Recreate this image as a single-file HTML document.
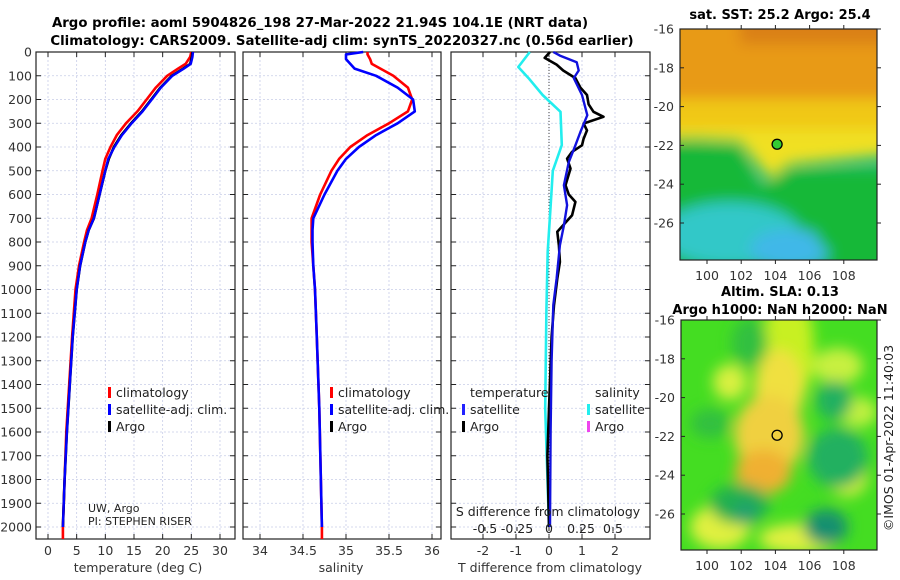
<!DOCTYPE html>
<html><head><meta charset="utf-8"><style>
html,body{margin:0;padding:0;background:#fff;}
svg{display:block;font-family:"DejaVu Sans","Liberation Sans",sans-serif;}
</style></head><body>
<svg id="fig" width="900" height="580" viewBox="0 0 900 580" xmlns="http://www.w3.org/2000/svg">
<rect width="900" height="580" fill="#fff"/>
<text x="320" y="27" font-size="13.3" font-weight="bold" text-anchor="middle">Argo profile: aoml 5904826_198 27-Mar-2022 21.94S 104.1E (NRT data)</text>
<text x="342" y="45" font-size="13.3" font-weight="bold" text-anchor="middle">Climatology: CARS2009. Satellite-adj clim: synTS_20220327.nc (0.56d earlier)</text>
<g id="plots"></g>
<g id="maps"></g>
</svg>
<script>
// ---- data ----
const tempDepth = [0,20,50,70,100,150,200,250,300,350,400,450,500,600,700,750,800,900,1000,1200,1400,1600,1800,2000];
const tempArgo  = [25.2,25.1,24.8,23.6,21.6,19.6,18.0,16.4,14.5,12.8,11.5,10.6,10.0,9.0,8.0,7.1,6.5,5.6,5.0,4.3,3.8,3.3,2.9,2.6];
const tempSat   = [25.3,25.2,24.9,23.7,21.7,19.7,18.1,16.5,14.6,12.9,11.6,10.5,10.0,9.0,8.0,7.1,6.5,5.6,5.0,4.3,3.8,3.3,2.9,2.6];
const tempClim  = [25.0,24.8,24.0,22.7,20.8,18.8,17.2,15.6,13.6,12.0,10.9,10.0,9.5,8.6,7.6,6.8,6.3,5.4,4.8,4.2,3.7,3.2,2.9,2.6];
const salDepth  = [0,10,30,50,70,100,150,200,250,300,350,400,450,500,600,700,750,800,900,1000,1200,1500,2000];
const salClim   = [35.25,35.25,35.28,35.3,35.4,35.55,35.72,35.77,35.72,35.5,35.25,35.05,34.92,34.83,34.7,34.6,34.6,34.6,34.62,34.64,34.66,34.69,34.72];
const salSat    = [35.2,35.0,35.0,35.05,35.1,35.35,35.6,35.78,35.8,35.6,35.35,35.15,35.0,34.9,34.75,34.62,34.61,34.61,34.62,34.64,34.66,34.69,34.72];
const dTsatDepth = [0,15,43,78,110,181,266,337,393,463,561,645,730,814,954,1066,1300,1600,2000];
const dTsat      = [0.13,0.33,0.84,0.9,0.75,1.0,1.16,0.95,0.8,0.6,0.45,0.55,0.45,0.33,0.23,0.13,0.08,0.05,0.03];
const dTargoDepth = [0,25,53,78,110,150,181,220,252,273,301,330,365,393,420,449,491,561,600,631,687,757,814,884,954,1066,1200,1500,1700,2000];
const dTargo      = [0.03,-0.13,0.23,0.43,0.8,0.95,1.15,1.2,1.35,1.65,1.05,1.15,1.05,1.0,0.7,0.55,0.65,0.5,0.6,0.8,0.7,0.25,0.3,0.33,0.25,0.15,0.08,0.0,-0.05,0.0];
const dSsatDepth = [0,63,110,181,252,392,500,670,840,1090,1500,2000];
const dSsat      = [-0.15,-0.24,-0.16,-0.05,0.09,0.1,0.03,0.01,-0.01,-0.02,-0.03,0.0];
const depthTicks = [0,100,200,300,400,500,600,700,800,900,1000,1100,1200,1300,1400,1500,1600,1700,1800,1900,2000];
const tTicks = [0,5,10,15,20,25,30];
const sTicks = [34,34.5,35,35.5,36];
const dtTicks = [-2,-1,0,1,2];
const dsTicks = [-0.5,-0.25,0,0.25,0.5];
const dsTickLabels = ['-0.5','-0.25','0','0.25','0.5'];
const lonTicks = [100,102,104,106,108];
const latTicks = [-16,-18,-20,-22,-24,-26];
const argoLon = 104.1, argoLat = -21.94;

const NS='http://www.w3.org/2000/svg';
function el(tag, attrs, parent, txt){const e=document.createElementNS(NS,tag);for(const k in attrs)e.setAttribute(k,attrs[k]);if(txt!==undefined)e.textContent=txt;(parent||document.getElementById('plots')).appendChild(e);return e;}
const TOP=52, BOT=539;
const yD = d => TOP + d*0.2375;
const panels = [
 {x0:36,x1:235,fx:v=>48+v*5.733,ticks:tTicks,name:'temperature-panel'},
 {x0:243,x1:441,fx:v=>260+(v-34)*86,ticks:sTicks,name:'salinity-panel'},
 {x0:451,x1:650,fx:v=>549+v*33,ticks:dtTicks,name:'difference-panel'}
];
const g=document.getElementById('plots');
panels.forEach((p,i)=>{
  const pg=el('g',{},g);
  
  
  depthTicks.forEach(d=>{
    el('line',{x1:p.x0,x2:p.x1,y1:yD(d),y2:yD(d),stroke:'#c8cde8','stroke-width':0.8,'stroke-dasharray':'2,2'},pg);
    el('line',{x1:p.x0,x2:p.x0+5,y1:yD(d),y2:yD(d),stroke:'#222'},pg);
    el('line',{x1:p.x1,x2:p.x1-5,y1:yD(d),y2:yD(d),stroke:'#222'},pg);
    if(i===0){const t=el('text',{x:p.x0-4,y:yD(d)+4.5,'font-size':12.5,'text-anchor':'end',fill:'#333'},pg,String(d));
      }
  });
  p.ticks.forEach((v,j)=>{
    const x=p.fx(v);
    el('line',{x1:x,x2:x,y1:TOP,y2:BOT,stroke:'#c8cde8','stroke-width':0.8,'stroke-dasharray':'2,2'},pg);
    el('line',{x1:x,x2:x,y1:BOT,y2:BOT-5,stroke:'#222'},pg);
    el('line',{x1:x,x2:x,y1:TOP,y2:TOP+5,stroke:'#222'},pg);
    const t=el('text',{x:x,y:BOT+16,'font-size':12.5,'text-anchor':'middle',fill:'#333'},pg,String(v));
    
  });
  el('rect',{x:p.x0,y:TOP,width:p.x1-p.x0,height:BOT-TOP,fill:'none',stroke:'#222','stroke-width':1.2},pg);
  p.g=pg;
});
function line(pg,xs,ds,fx,color,w,name){
  const pts=xs.map((v,k)=>fx(v).toFixed(1)+','+yD(ds[k]).toFixed(1)).join(' ');
  const e=el('polyline',{points:pts,fill:'none',stroke:color,'stroke-width':w,'stroke-linejoin':'round'},pg);
  
  
}
const P=panels;
line(P[0].g,tempClim,tempDepth,P[0].fx,'#f00',2.6,'temp-climatology-line');
el('line',{x1:P[0].fx(2.6),x2:P[0].fx(2.6),y1:yD(2000),y2:BOT,stroke:'#f00','stroke-width':2.6},P[0].g);
line(P[0].g,tempArgo,tempDepth,P[0].fx,'#000',2.6,'temp-argo-line');
line(P[0].g,tempSat,tempDepth,P[0].fx,'#00f',2.4,'temp-satellite-line');
line(P[1].g,salClim,salDepth,P[1].fx,'#f00',2.6,'sal-climatology-line');
el('line',{x1:P[1].fx(34.72),x2:P[1].fx(34.72),y1:yD(2000),y2:BOT,stroke:'#f00','stroke-width':2.6},P[1].g);
line(P[1].g,salSat,salDepth,P[1].fx,'#00f',2.6,'sal-satellite-line');
el('line',{x1:549,x2:549,y1:TOP,y2:BOT,stroke:'#444','stroke-width':1,'stroke-dasharray':'1,2'},P[2].g);
const fxS=v=>549+v*128;
line(P[2].g,dSsat,dSsatDepth,fxS,'#22eeee',2.6,'sal-diff-satellite-line');
line(P[2].g,dTargo,dTargoDepth,P[2].fx,'#000',2.6,'temp-diff-argo-line');
line(P[2].g,dTsat,dTsatDepth,P[2].fx,'#11d',2.4,'temp-diff-satellite-line');
dsTicks.forEach((v,j)=>{
  el('line',{x1:fxS(v),x2:fxS(v),y1:yD(2000),y2:yD(2000)+4,stroke:'#222'},P[2].g);
  const t=el('text',{x:fxS(v),y:533,'font-size':12.5,'text-anchor':'middle',fill:'#222'},P[2].g,dsTickLabels[j]);
  
});
function txt(x,y,s,name,opts){const t=el('text',Object.assign({x:x,y:y,'font-size':12.5,fill:'#222'},opts||{}),g,s);return t;}
txt(548,516,'S difference from climatology','s-diff-axis-title',{'text-anchor':'middle'});
txt(138,572,'temperature (deg C)','temp-axis-title',{'text-anchor':'middle',fill:'#333'});
txt(341,572,'salinity','salinity-axis-title',{'text-anchor':'middle',fill:'#333'});
txt(550,572,'T difference from climatology','t-diff-axis-title',{'text-anchor':'middle',fill:'#333'});
txt(88,512,'UW, Argo','institution-label',{'font-size':11});
txt(88,525,'PI: STEPHEN RISER','pi-label',{'font-size':11});
function leg(x,y,color,s,name){
  const lg=el('g',{},g);
  if(color) el('rect',{x:x,y:y-10,width:3,height:11,fill:color},lg);
  el('text',{x:x+8,y:y,'font-size':12.5,fill:'#222'},lg,s);
}
leg(108,397,'#f00','climatology','legend-climatology');
leg(108,414,'#00f','satellite-adj. clim.','legend-satellite-adj');
leg(108,431,'#000','Argo','legend-argo');
leg(330,397,'#f00','climatology','legend-climatology-2');
leg(330,414,'#00f','satellite-adj. clim.','legend-satellite-adj-2');
leg(330,431,'#000','Argo','legend-argo-2');
leg(462,397,null,'temperature','legend-temperature-heading');
leg(462,414,'#22f','satellite','legend-t-satellite');
leg(462,431,'#000','Argo','legend-t-argo');
leg(587,397,null,'salinity','legend-salinity-heading');
leg(587,414,'#2ee','satellite','legend-s-satellite');
leg(587,431,'#e4e','Argo','legend-s-argo');

// ---- maps ----
const mg=document.getElementById('maps');
const maps=[
 {x0:680,x1:877,y0:29,y1:260,lat0:29,name:'sst-map',title:['sat. SST: 25.2 Argo: 25.4'],ty:[19]},
 {x0:681,x1:877,y0:320,y1:550,lat0:320,name:'sla-map',title:['Altim. SLA: 0.13','Argo h1000: NaN h2000: NaN'],ty:[296,314]}
];
const defs=el('defs',{},mg);
const f=el('filter',{id:'blur',x:'-50%',y:'-50%',width:'200%',height:'200%'},defs);
el('feGaussianBlur',{stdDeviation:'7'},f);
maps.forEach((m,i)=>{
  const gg=el('g',{},mg);
  const cp=el('clipPath',{id:'cp'+i},defs);
  el('rect',{x:m.x0,y:m.y0,width:m.x1-m.x0,height:m.y1-m.y0},cp);
  const fx=lon=>707+(lon-100)*17.1, fy=lat=>m.lat0+(-16-lat)*19.4;
  const c=el('g',{'clip-path':'url(#cp'+i+')'},gg);
  const W=m.x1-m.x0,H=m.y1-m.y0;
  if(i===0){
    el('rect',{x:m.x0,y:m.y0,width:W,height:H,fill:'#20c080'},c);
    const b=el('g',{filter:'url(#blur)'},c);
    el('rect',{x:m.x0-20,y:m.y0-20,width:W+40,height:90,fill:'#e89a18'},b);
    el('rect',{x:m.x0-20,y:m.y0+70,width:W+40,height:40,fill:'#f0c818'},b);
    el('path',{d:`M${m.x0-20},${m.y0+108} L${m.x0+60},${m.y0+112} L${m.x0+90},${m.y0+150} L${m.x0+110},${m.y0+135} L${m.x1+20},${m.y0+125} L${m.x1+20},${m.y0+100} L${m.x0-20},${m.y0+100}Z`,fill:'#f0e020'},b);
    el('path',{d:`M${m.x0-20},${m.y0+112} L${m.x0+60},${m.y0+115} L${m.x0+80},${m.y0+160} L${m.x0+110},${m.y0+140} L${m.x1+20},${m.y0+140} L${m.x1+20},${H+m.y0+20} L${m.x0-20},${H+m.y0+20}Z`,fill:'#18b838'},b);
    el('ellipse',{cx:m.x0+50,cy:m.y0+205,rx:70,ry:32,fill:'#30c8c8'},b);
    el('ellipse',{cx:m.x0+110,cy:m.y0+220,rx:40,ry:20,fill:'#40b8e8'},b);
    el('ellipse',{cx:m.x0+175,cy:m.y0+200,rx:40,ry:30,fill:'#18b838'},b);
    el('rect',{x:m.x0+60,y:m.y0-20,width:W,height:35,fill:'#d07010',opacity:0.6},b);
  } else {
    el('rect',{x:m.x0,y:m.y0,width:W,height:H,fill:'#44dd22'},c);
    const b=el('g',{filter:'url(#blur)'},c);
    [[0.55,0.12,25,60,'#c8f020'],[0.5,0.3,25,40,'#f0e040'],[0.45,0.5,35,40,'#f0d040'],[0.42,0.66,28,22,'#f0b030'],
     [0.25,0.27,17,18,'#d8f040'],[0.8,0.2,25,18,'#c8f040'],[0.9,0.4,20,15,'#c0f040'],[0.2,0.9,30,22,'#e0f040'],[0.6,0.95,40,15,'#e0f040'],[0.85,0.68,20,20,'#d8f040'],
     [0.35,0.1,18,25,'#30c040'],[0.78,0.35,18,20,'#20b060'],[0.8,0.6,30,30,'#20b060'],[0.3,0.8,30,20,'#20b050'],[0.74,0.9,22,18,'#189070'],[0.33,0.84,12,12,'#20a070'],[0.15,0.45,20,15,'#30c040']]
     .forEach(a=>el('ellipse',{cx:m.x0+a[0]*W,cy:m.y0+a[1]*H,rx:a[2],ry:a[3],fill:a[4]},b));
  }
  latTicks.forEach(lat=>{
    const y=fy(lat);
    el('line',{x1:m.x0,x2:m.x0+4,y1:y,y2:y,stroke:'#222'},gg);
    el('line',{x1:m.x1,x2:m.x1+4,y1:y,y2:y,stroke:'#222'},gg);
    const t=el('text',{x:m.x0-6,y:y+4.5,'font-size':12.5,'text-anchor':'end',fill:'#333'},gg,String(lat));
    
  });
  lonTicks.forEach(lon=>{
    const x=fx(lon);
    el('line',{x1:x,x2:x,y1:m.y1,y2:m.y1+4,stroke:'#222'},gg);
    el('line',{x1:x,x2:x,y1:m.y0,y2:m.y0-4,stroke:'#222'},gg);
    const t=el('text',{x:x,y:m.y1+20,'font-size':12.5,'text-anchor':'middle',fill:'#333'},gg,String(lon));
    
  });
  el('rect',{x:m.x0,y:m.y0,width:W,height:H,fill:'none',stroke:'#222','stroke-width':1.2},gg);
  const mk=el('circle',{cx:fx(argoLon),cy:fy(argoLat),r:5,fill:i===0?'#3c3':'none',stroke:'#000','stroke-width':1.3},gg);
  
  m.title.forEach((s,k)=>{const t=el('text',{x:780,y:m.ty[k],'font-size':13,'font-weight':'bold','text-anchor':'middle'},gg,s);
    });
});
const cr=el('text',{x:893,y:438,'font-size':12.5,fill:'#222','text-anchor':'middle',transform:'rotate(-90 893 438)'},mg,'©IMOS 01-Apr-2022 11:40:03');

</script>
</body></html>
